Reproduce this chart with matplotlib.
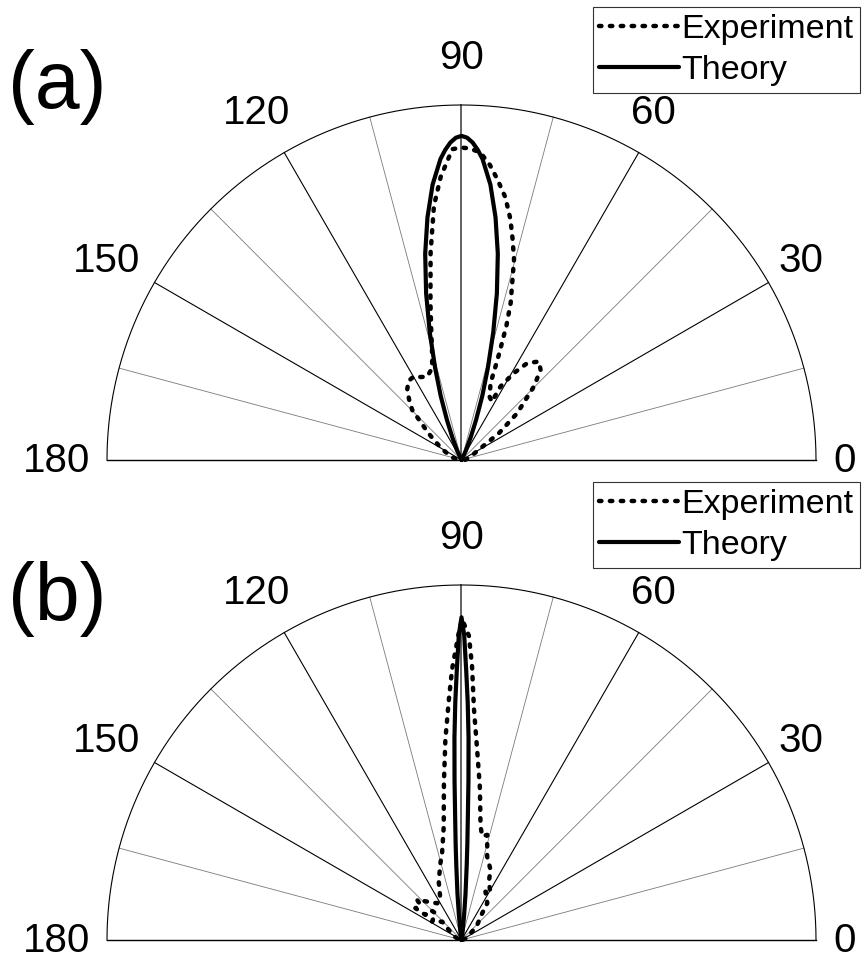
import numpy as np
import matplotlib.pyplot as plt

plt.rcParams['font.family'] = ['Liberation Sans', 'DejaVu Sans']

# panel (a): angle in degrees, normalised radius
ang_exp_a = [2, 15, 25, 31.6, 35.6, 40, 45.4, 48.7, 51.8, 55.8, 58.9, 62, 62.5, 66, 69.3,
             70, 70.5, 71.5, 72.6, 75.3, 77, 78.5, 80.5, 82.7, 84.5, 86.5, 88.5, 90,
             91.7, 94.2, 96.2, 98.5, 101.2, 103, 105.4, 107.7, 112.4, 116, 119.8, 124,
             127.8, 131, 134.6, 138.5, 141.5, 144.9, 150, 155, 165, 178]
r_exp_a = [0.01, 0.02, 0.035, 0.063, 0.13, 0.205, 0.291, 0.338, 0.353, 0.33, 0.286, 0.235,
           0.185, 0.195, 0.232, 0.28, 0.32, 0.40, 0.464, 0.584, 0.64, 0.692, 0.75, 0.797,
           0.835, 0.868, 0.878, 0.88, 0.876, 0.80, 0.72, 0.59, 0.451, 0.38, 0.312, 0.272,
           0.254, 0.26, 0.271, 0.268, 0.25, 0.225, 0.198, 0.142, 0.115, 0.09, 0.065, 0.045,
           0.025, 0.01]

ang_th_a = [60, 65, 68, 70, 72, 74, 76, 78, 80, 82, 84, 86, 87, 88, 89, 90, 91, 92, 93, 94,
            96, 98, 100, 102, 104, 106, 108, 110, 112, 115, 120]
r_th_a = [0.0, 0.03, 0.07, 0.12, 0.19, 0.27, 0.37, 0.48, 0.59, 0.69, 0.78, 0.85, 0.875,
          0.895, 0.908, 0.913, 0.908, 0.895, 0.875, 0.85, 0.78, 0.69, 0.59, 0.48, 0.37,
          0.27, 0.19, 0.12, 0.07, 0.03, 0.0]

# panel (b)
ang_exp_b = [10, 25, 43.7, 52.2, 55, 63.6, 58.2, 64.9, 67.5, 72.9, 76.2, 78.7, 80.5, 82,
             83.2, 85.3, 86.9, 87.8, 88.6, 89.9, 90.5, 92.0, 93.0, 94.6, 96.4, 98.9, 102.6,
             105.3, 111.3, 117.7, 123.5, 131.8, 137.9, 139.5, 145.4, 145.2, 135.9, 134.2,
             148, 136.5, 141.8, 155, 175]
r_exp_b = [0.005, 0.02, 0.061, 0.095, 0.127, 0.152, 0.155, 0.182, 0.214, 0.246, 0.305,
           0.298, 0.325, 0.38, 0.436, 0.538, 0.651, 0.773, 0.857, 0.904, 0.866, 0.763,
           0.679, 0.567, 0.445, 0.324, 0.251, 0.225, 0.177, 0.128, 0.124, 0.145, 0.169,
           0.152, 0.158, 0.124, 0.122, 0.105, 0.098, 0.075, 0.046, 0.02, 0.005]

ang_th_b = [80, 82, 84, 85, 86, 86.5, 87, 87.5, 88, 88.5, 89, 89.5, 90, 90.5, 91, 91.5,
            92, 92.5, 93, 93.5, 94, 95, 96, 98, 100]
r_th_b = [0.0, 0.02, 0.07, 0.13, 0.21, 0.27, 0.34, 0.45, 0.57, 0.67, 0.76, 0.86, 0.909,
          0.86, 0.76, 0.67, 0.57, 0.45, 0.34, 0.27, 0.21, 0.13, 0.07, 0.02, 0.0]

spoke_angles = list(range(0, 181, 15))
tick_labels = ['0', '30', '60', '90', '120', '150', '180']
# label anchor (x, y) in units of the outer radius, and alignment
label_pos = [(1.05, -0.034), (0.895, 0.53), (0.477, 0.946), (0.0, 1.102),
             (-0.483, 0.946), (-0.907, 0.53), (-1.048, -0.034)]
label_ha = ['left', 'left', 'left', 'center', 'right', 'right', 'right']


def to_xy(ang, r):
    t = np.deg2rad(np.asarray(ang, dtype=float))
    r = np.asarray(r, dtype=float)
    return r * np.cos(t), r * np.sin(t)


W, H = 868, 961
fig = plt.figure(figsize=(W / 100, H / 100), dpi=100)

panels = [
    (460, 'a', ang_exp_a, r_exp_a, ang_th_a, r_th_a, 7),
    (940, 'b', ang_exp_b, r_exp_b, ang_th_b, r_th_b, 482),
]

for cy, tag, ae, re_, at, rt, leg_top in panels:
    ax = fig.add_axes([107 / W, 1 - cy / H, 709 / W, 355 / H])
    ax.set_xlim(-1, 1)
    ax.set_ylim(0, 1)
    ax.axis('off')

    # grid: spokes, outer arc, baseline
    for a in spoke_angles:
        if a in (0, 180):
            continue
        if a == 90:
            col, lw = '#555555', 1.3
        elif a % 30 == 0:
            col, lw = 'black', 0.8
        else:
            col, lw = '#7a7a7a', 0.6
        x, y = to_xy([a, a], [0, 1])
        ax.plot(x, y, color=col, lw=lw, zorder=1, clip_on=False)
    arc_t = np.linspace(0, 180, 361)
    x, y = to_xy(arc_t, np.ones_like(arc_t))
    ax.plot(x, y, color='black', lw=0.8, zorder=1, clip_on=False)
    ax.plot([-1, 1], [0, 0], color='black', lw=1.0, zorder=1, clip_on=False)

    for txt, (lx, ly), ha in zip(tick_labels, label_pos, label_ha):
        ax.text(lx, ly, txt, fontsize=29, ha=ha, va='baseline', clip_on=False)

    x, y = to_xy(ae, re_)
    ax.plot(x, y, color='black', lw=3.2, linestyle=(0, (0.55, 1.9)),
            dash_capstyle='round', zorder=3, clip_on=False, label='Experiment')
    x, y = to_xy(at, rt)
    ax.plot(x, y, color='black', lw=3, solid_capstyle='round', solid_joinstyle='round',
            zorder=4, clip_on=False, label='Theory')

    leg = ax.legend(loc='upper right', bbox_to_anchor=(860 / W, 1 - leg_top / H),
                    bbox_transform=fig.transFigure, fontsize=24.5, frameon=True,
                    fancybox=False, framealpha=1, edgecolor='#333333',
                    borderpad=0.2, labelspacing=0.3, handlelength=2.35,
                    handletextpad=0.05, borderaxespad=0)
    leg.get_frame().set_linewidth(0.8)

    fig.text(8 / W, 1 - (108 if tag == 'a' else 620) / H, '(%s)' % tag,
             fontsize=58, ha='left', va='baseline')

fig.savefig('out.png', dpi=100)
